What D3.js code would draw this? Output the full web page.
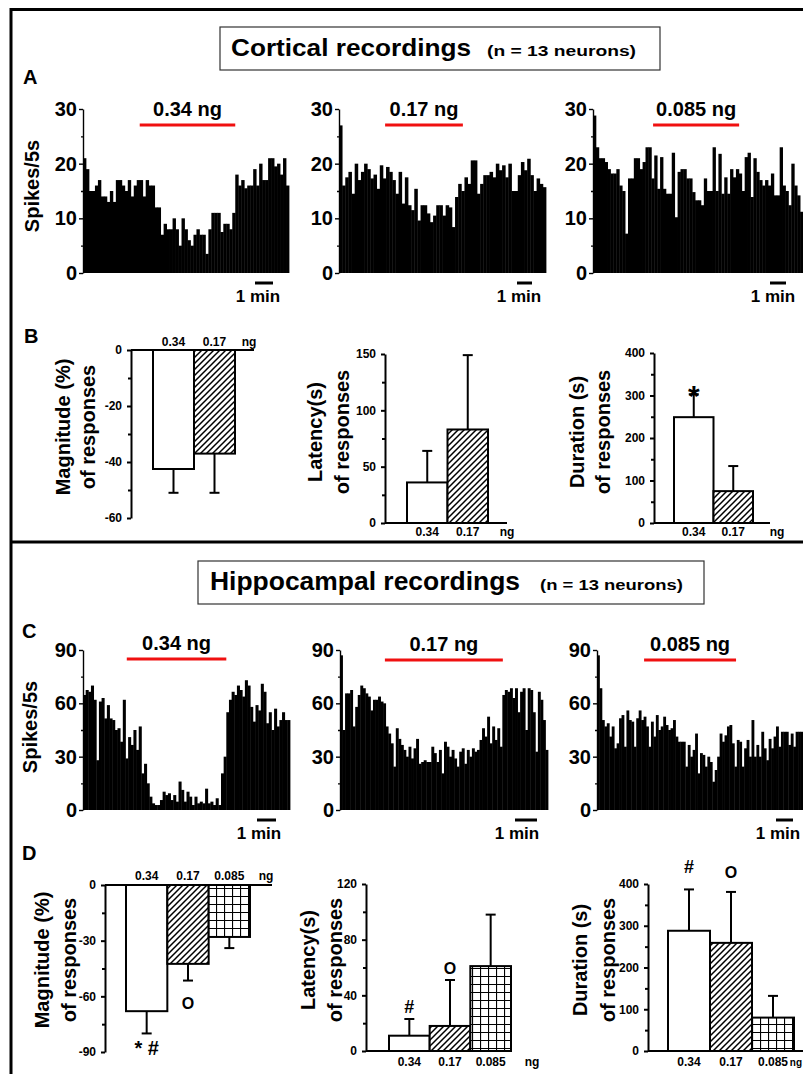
<!DOCTYPE html>
<html>
<head>
<meta charset="utf-8">
<script src="https://cdn.jsdelivr.net/npm/d3@7"></script>
<style>
  body { margin: 0; background: #fff; }
  svg { display: block; }
  text { font-family: Arial, "Liberation Sans", sans-serif; font-weight: bold; fill: #000; }
  .narrow { font-family: "Liberation Sans Narrow", "Arial Narrow", Arial, sans-serif; }
</style>
</head>
<body>
<svg id="fig" width="803" height="1074"></svg>
<script>
// ---- data ----
const doses = ["0.34", "0.17", "0.085"];

// spike histograms (spikes per bin), cortical
const cortical034 = [21, 19, 15, 15, 16, 17, 14, 14, 13, 15, 13, 17, 17, 16, 15, 17, 14, 16, 17, 17, 14, 17, 16, 16, 12, 12, 7, 9, 8, 8, 10, 8, 5, 10, 8, 6, 5, 7, 8, 7, 7, 3.5, 8, 11, 11, 11, 7.5, 9, 9, 8, 11, 18, 16, 17, 15.5, 16, 16, 19, 16, 20, 17, 17, 21, 21, 19.5, 20, 18, 21, 16];
const cortical017 = [27, 16, 17.5, 18.5, 14.5, 20, 17, 18.5, 20, 19, 17.3, 18, 15.4, 19.7, 17.3, 19.4, 18.5, 17, 14.5, 18.5, 12.7, 17.5, 12.4, 11.5, 15.4, 9.6, 12.4, 12.4, 10.9, 9.3, 10.5, 12.4, 12.4, 10.5, 12.4, 12, 8.4, 13.9, 16.3, 15, 17.5, 16.3, 20.6, 20.6, 14.5, 16.3, 17.9, 17.9, 18.5, 17.5, 20, 18.8, 19.7, 17.5, 20, 15, 15, 17.9, 20.3, 18.8, 20.9, 17.9, 15, 17.3, 16.3, 15.7];
const cortical0085 = [28.8, 23, 21, 21, 20.3, 19, 18.2, 18.2, 19, 16, 15, 7.2, 17.3, 17.3, 21, 21, 19, 20.3, 23, 23, 17.3, 21.5, 15.4, 21.2, 15.4, 14.5, 14.5, 22, 10.2, 18.5, 19, 19, 17.3, 17.3, 14.8, 13.3, 13.3, 12.4, 17.3, 15, 15, 23, 15, 21.8, 14.5, 17.5, 14.5, 19, 17.5, 19, 18.2, 15, 21.2, 22, 13.9, 21, 18.5, 17, 16, 17, 16, 18.2, 14.2, 14.2, 23, 16, 15, 12.4, 20, 16, 14.2, 11.2];
// spike histograms, hippocampal
const hippo034 = [64.7, 67.5, 66.5, 70, 62, 28, 61, 63, 51.5, 59, 51.5, 50.6, 45, 46, 38.4, 62, 29, 41, 36.6, 45, 33.8, 47, 20.6, 26, 15, 7.5, 3.75, 2.8, 2.8, 5.6, 10.3, 8.4, 9.4, 5.6, 8.4, 4.7, 16, 11.3, 4.7, 10.3, 7.5, 2.8, 7.5, 3.75, 4.7, 3.75, 12, 3.75, 4.7, 2.8, 6.6, 2.8, 20.6, 30, 55, 62, 66.5, 64.7, 70, 67.5, 63.8, 73, 70, 58, 49.7, 59, 56, 71, 66.5, 48.8, 55, 45, 57, 47, 50.6, 55, 50.6, 50.6];
const hippo017 = [87, 45, 65.6, 65.6, 67.5, 47, 58, 64.7, 70, 68.5, 65.6, 63.8, 56, 62, 62, 63.8, 61, 60, 47, 43, 37.5, 24.4, 46, 40, 36.6, 33.8, 30, 35.6, 29, 34.7, 40, 26, 27, 28, 27, 27, 35.6, 32, 27, 33.8, 20.6, 38.4, 35.6, 30, 33.8, 29, 24.4, 32.8, 34.7, 26, 33.8, 30, 34.7, 32.8, 33.8, 39.4, 46, 41.3, 52.5, 37.5, 47, 39.4, 46, 35.6, 64.7, 67.5, 66.5, 68.5, 63, 68.5, 55, 66.5, 68.5, 45, 68.5, 67.5, 55, 32.8, 66.5, 62, 50.6, 33.8];
const hippo0085 = [87, 68.5, 50.6, 47, 48.8, 41.3, 47, 34.7, 37.5, 51.6, 53.4, 35.6, 56, 50.6, 49.7, 35.6, 51.6, 56, 50.6, 52.5, 47, 35.6, 49.7, 41.3, 53.4, 45, 47, 52.5, 47.8, 45, 46, 50.6, 41.3, 38.4, 38.4, 38.4, 24.4, 36.6, 30, 33.8, 43, 20.6, 32, 31, 24.4, 30, 27, 15.9, 22.5, 30, 43, 38.4, 42, 47, 47.8, 37.5, 24.4, 39.4, 38.4, 24.4, 34.7, 39.4, 30, 50.6, 30, 36.6, 30, 44, 34.7, 28, 40, 34.7, 41.3, 47, 35.6, 44, 44, 44, 36.6, 43, 35.6, 44, 44, 44];
// drug application window, in bins [start, end]
const corticalDose = [[19, 51], [14.7, 39.5], [20.6, 50.1]];
const hippoDose = [[16.5, 54], [17.7, 64.2], [19.2, 56.7]];

// summary bars (mean, error)
const corticalMagnitude = [-42.5, -37], corticalMagnitudeErr = [8.5, 14];
const corticalLatency = [36, 83], corticalLatencyErr = [28, 66];
const corticalDuration = [249, 75], corticalDurationErr = [54, 59];
const hippoMagnitude = [-68, -42.5, -28], hippoMagnitudeErr = [12, 9, 6];
const hippoLatency = [11, 18, 61], hippoLatencyErr = [12, 33, 37];
const hippoDuration = [288, 259, 80], hippoDurationErr = [99, 122, 52];

const svg = d3.select("#fig");

// fill patterns for the bars
const defs = svg.append("defs");
const hatch = defs.append("pattern").attr("id", "hatch")
  .attr("patternUnits", "userSpaceOnUse").attr("width", 6).attr("height", 6);
hatch.append("rect").attr("width", 6).attr("height", 6).attr("fill", "#fff");
hatch.append("path").attr("d", "M-1,1 l2,-2 M0,6 l6,-6 M5,7 l2,-2")
  .attr("stroke", "#000").attr("stroke-width", 1.5);
const grid = defs.append("pattern").attr("id", "grid")
  .attr("patternUnits", "userSpaceOnUse").attr("width", 8).attr("height", 8);
grid.append("rect").attr("width", 8).attr("height", 8).attr("fill", "#fff");
grid.append("path").attr("d", "M0.5,0 V8 M0,0.5 H8").attr("stroke", "#000").attr("stroke-width", 1.2);
const fills = ["#fff", "url(#hatch)", "url(#grid)"];

// frame
svg.append("path").attr("d", "M11,1074 V9.5 H803 M11,542 H803")
  .attr("fill", "none").attr("stroke", "#000").attr("stroke-width", 3);

// titles
function titleBox(b) {
  svg.append("rect").attr("x", b.x).attr("y", b.y).attr("width", b.w).attr("height", b.h)
    .attr("fill", "#fff").attr("stroke", "#333").attr("stroke-width", 1.2);
  svg.append("text").attr("class", b.cls).attr("x", b.tx).attr("y", b.ty)
    .attr("font-size", b.fs).attr("textLength", b.tl).attr("lengthAdjust", "spacingAndGlyphs").text(b.title);
  svg.append("text").attr("class", b.cls).attr("x", b.nx).attr("y", b.ty)
    .attr("font-size", b.nfs).attr("textLength", b.nl).attr("lengthAdjust", "spacingAndGlyphs").text(b.sub);
}
titleBox({x: 220, y: 27, w: 440, h: 43, tx: 231, ty: 56, fs: 24, tl: 240, title: "Cortical recordings",
  nx: 487, nfs: 14, nl: 149, sub: "(n = 13 neurons)", cls: ""});
titleBox({x: 198, y: 561, w: 506, h: 43, tx: 210, ty: 590, fs: 25, tl: 310, title: "Hippocampal recordings",
  nx: 540, nfs: 15, nl: 143, sub: "(n = 13 neurons)", cls: "narrow"});

const letters = [["A", 23, 84], ["B", 24, 343], ["C", 22, 638], ["D", 22, 860]];
svg.selectAll(".letter").data(letters).join("text").attr("class", "letter")
  .attr("x", d => d[1]).attr("y", d => d[2]).attr("font-size", 20).text(d => d[0]);

function rotLabel(lines, xs, yc, fs, cls) {
  lines.forEach((t, i) => {
    svg.append("text").attr("class", cls || "")
      .attr("transform", `translate(${xs[i]},${yc}) rotate(-90)`)
      .attr("text-anchor", "middle").attr("dy", "0.36em").attr("font-size", fs).text(t);
  });
}

// ---- spike histograms ----
function histogram(h) {
  const g = svg.append("g");
  const x = d3.scaleLinear().domain([0, h.data.length]).range([h.x0, h.x1]);
  const y = d3.scaleLinear().domain([0, h.max]).range([h.yBottom, h.yTop]);
  const w = x(1) - x(0);
  g.selectAll("rect").data(h.data).join("rect")
    .attr("x", (d, i) => x(i)).attr("width", w + 0.4)
    .attr("y", d => y(d)).attr("height", d => y(0) - y(d)).attr("fill", "#000");
  const ax = g.append("g").attr("transform", `translate(${h.x0},0)`)
    .call(d3.axisLeft(y).tickValues(d3.range(0, h.max + 1, h.max / 3)).tickSize(4).tickSizeOuter(0).tickPadding(2));
  g.append("g").attr("transform", `translate(${h.x0},0)`)
    .call(d3.axisLeft(y).tickValues(d3.range(h.max / 6, h.max, h.max / 3)).tickSize(2).tickFormat(""))
    .select(".domain").remove();
  g.selectAll(".domain, .tick line").attr("stroke", "#000").attr("stroke-width", 1.4);
  ax.selectAll("text").attr("font-size", 20).attr("font-family", null).attr("fill", "#000");
  // drug application bar
  g.append("line").attr("x1", x(h.dose[0])).attr("x2", x(h.dose[1]))
    .attr("y1", h.redY).attr("y2", h.redY).attr("stroke", "#f01010").attr("stroke-width", 3);
  g.append("text").attr("x", (x(h.dose[0]) + x(h.dose[1])) / 2).attr("y", h.redY - 9)
    .attr("text-anchor", "middle").attr("font-size", 20).text(h.label);
  // 1 min scale bar
  g.append("line").attr("x1", h.sb[0]).attr("x2", h.sb[1]).attr("y1", h.sbY).attr("y2", h.sbY)
    .attr("stroke", "#000").attr("stroke-width", 3);
  g.append("text").attr("x", h.minX).attr("y", h.sbY + 19).attr("text-anchor", "middle")
    .attr("font-size", 17).text("1 min");
}

const histLayout = [
  {data: cortical034, dose: corticalDose[0], label: "0.34 ng", x0: 83, x1: 289, yTop: 109, yBottom: 273, max: 30, redY: 125, sb: [255, 273], sbY: 283, minX: 258},
  {data: cortical017, dose: corticalDose[1], label: "0.17 ng", x0: 339, x1: 546, yTop: 109, yBottom: 273, max: 30, redY: 125, sb: [517, 532], sbY: 283, minX: 519},
  {data: cortical0085, dose: corticalDose[2], label: "0.085 ng", x0: 593, x1: 803, yTop: 109, yBottom: 273, max: 30, redY: 125, sb: [770, 786], sbY: 283, minX: 773},
  {data: hippo034, dose: hippoDose[0], label: "0.34 ng", x0: 83, x1: 290, yTop: 650, yBottom: 810, max: 90, redY: 659, sb: [257, 276], sbY: 820, minX: 259},
  {data: hippo017, dose: hippoDose[1], label: "0.17 ng", x0: 340, x1: 548, yTop: 650, yBottom: 810, max: 90, redY: 660, sb: [515, 537], sbY: 820, minX: 517},
  {data: hippo0085, dose: hippoDose[2], label: "0.085 ng", x0: 597, x1: 803, yTop: 650, yBottom: 810, max: 90, redY: 660, sb: [776, 793], sbY: 820, minX: 778}
];
histLayout.forEach(histogram);
rotLabel(["Spikes/5s"], [32], 186, 20);
rotLabel(["Spikes/5s"], [30], 727, 20);

// ---- summary bar charts ----
function barChart(c) {
  const g = svg.append("g").attr("class", c.cls || "");
  const cats = doses.slice(0, c.values.length);
  const x = d3.scaleBand().domain(cats).range(c.band).padding(0);
  const y = d3.scaleLinear().domain(c.domain).range([c.yBottom, c.yTop]);
  // bars
  g.selectAll(".bar").data(c.values).join("rect").attr("class", "bar")
    .attr("x", (d, i) => x(cats[i])).attr("width", x.bandwidth())
    .attr("y", d => Math.min(y(0), y(d))).attr("height", d => Math.abs(y(d) - y(0)))
    .attr("fill", (d, i) => fills[i]).attr("stroke", "#000").attr("stroke-width", 2);
  // error bars
  const ends = c.values.map((v, i) => v < 0 ? v - c.errors[i] : v + c.errors[i]);
  c.values.forEach((v, i) => {
    const cx = x(cats[i]) + x.bandwidth() / 2;
    g.append("line").attr("x1", cx).attr("x2", cx).attr("y1", y(v)).attr("y2", y(ends[i]))
      .attr("stroke", "#000").attr("stroke-width", 2);
    g.append("line").attr("x1", cx - 5).attr("x2", cx + 5).attr("y1", y(ends[i])).attr("y2", y(ends[i]))
      .attr("stroke", "#000").attr("stroke-width", 2);
  });
  // axes
  g.append("line").attr("x1", c.axisX).attr("x2", c.lineEnd).attr("y1", y(0)).attr("y2", y(0))
    .attr("stroke", "#000").attr("stroke-width", 2);
  const ax = g.append("g").attr("transform", `translate(${c.axisX},0)`)
    .call(d3.axisLeft(y).tickValues(c.major).tickSize(4).tickSizeOuter(0).tickPadding(5)
      .tickFormat(d => d === 0 ? "0" : d3.format("d")(d).replace("−", "-")));
  g.append("g").attr("transform", `translate(${c.axisX},0)`)
    .call(d3.axisLeft(y).tickValues(c.minor).tickSize(3).tickFormat(""))
    .select(".domain").remove();
  g.selectAll(".domain, .tick line").attr("stroke", "#000").attr("stroke-width", 2);
  ax.selectAll("text").attr("font-size", c.tfs).attr("font-family", null).attr("fill", "#000");
  // dose labels
  g.selectAll(".dose").data(cats).join("text").attr("class", "dose")
    .attr("x", d => x(d) + x.bandwidth() / 2).attr("y", c.labelY)
    .attr("text-anchor", "middle").attr("font-size", c.tfs).text(d => d);
  g.append("text").attr("x", c.ngX).attr("y", c.labelY).attr("text-anchor", c.ngAnchor || "middle")
    .attr("font-size", c.ngFs || c.tfs).text("ng");
  // significance marks
  (c.marks || []).forEach(m => {
    const cx = x(cats[m.i]) + x.bandwidth() / 2;
    const ye = y(ends[m.i]);
    g.append("text").attr("x", cx).attr("y", c.values[m.i] < 0 ? ye + m.gap : ye - m.gap)
      .attr("text-anchor", "middle").attr("font-size", m.fs).text(m.t);
  });
  rotLabel(c.ylabel, c.ylabelX, c.ylabelY, 20, c.cls);
}

const barLayout = [
  {values: corticalMagnitude, errors: corticalMagnitudeErr, domain: [-60, 0], major: [0, -20, -40, -60], minor: [-10, -30, -50],
    axisX: 131, yTop: 350, yBottom: 518, band: [153, 235], lineEnd: 254, labelY: 346, ngX: 249, tfs: 12,
    ylabel: ["Magnitude (%)", "of responses"], ylabelX: [63, 88], ylabelY: 427},
  {values: corticalLatency, errors: corticalLatencyErr, domain: [0, 150], major: [0, 50, 100, 150], minor: [25, 75, 125],
    axisX: 385, yTop: 354, yBottom: 523, band: [407, 488], lineEnd: 507, labelY: 536, ngX: 507, tfs: 12,
    ylabel: ["Latency(s)", "of responses"], ylabelX: [315, 342], ylabelY: 432},
  {values: corticalDuration, errors: corticalDurationErr, domain: [0, 400], major: [0, 100, 200, 300, 400], minor: [50, 150, 250, 350],
    axisX: 654, yTop: 353, yBottom: 523, band: [674, 753], lineEnd: 770, labelY: 536, ngX: 777, tfs: 12,
    ylabel: ["Duration (s)", "of responses"], ylabelX: [577, 603], ylabelY: 432,
    marks: [{i: 0, t: "*", gap: -12, fs: 30}]},
  {values: hippoMagnitude, errors: hippoMagnitudeErr, domain: [-90, 0], major: [0, -30, -60, -90], minor: [-15, -45, -75],
    axisX: 105, yTop: 885, yBottom: 1052, band: [126, 250], lineEnd: 272, labelY: 880, ngX: 266, tfs: 12, cls: "narrow",
    ylabel: ["Magnitude (%)", "of responses"], ylabelX: [42, 69], ylabelY: 960,
    marks: [{i: 0, t: "* #", gap: 22, fs: 20}, {i: 1, t: "O", gap: 28, fs: 16}]},
  {values: hippoLatency, errors: hippoLatencyErr, domain: [0, 120], major: [0, 40, 80, 120], minor: [20, 60, 100],
    axisX: 366, yTop: 884, yBottom: 1051, band: [389, 511], lineEnd: 512, labelY: 1066, ngX: 532, tfs: 12, cls: "narrow",
    ylabel: ["Latency(s)", "of responses"], ylabelX: [308, 335], ylabelY: 960,
    marks: [{i: 0, t: "#", gap: 6, fs: 18}, {i: 1, t: "O", gap: 6, fs: 16}]},
  {values: hippoDuration, errors: hippoDurationErr, domain: [0, 400], major: [0, 100, 200, 300, 400], minor: [50, 150, 250, 350],
    axisX: 648, yTop: 884, yBottom: 1051, band: [668, 794], lineEnd: 803, labelY: 1066, ngX: 802, ngAnchor: "end", ngFs: 10, tfs: 12, cls: "narrow",
    ylabel: ["Duration (s)", "of responses"], ylabelX: [580, 608], ylabelY: 960,
    marks: [{i: 0, t: "#", gap: 16, fs: 18}, {i: 1, t: "O", gap: 14, fs: 16}]}
];
barLayout.forEach(barChart);
</script>
</body>
</html>
